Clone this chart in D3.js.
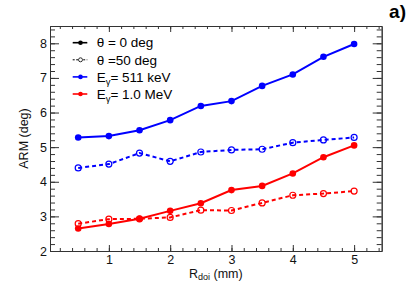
<!DOCTYPE html>
<html>
<head>
<meta charset="utf-8">
<script src="https://cdn.jsdelivr.net/npm/d3@7"></script>
<style>
  html, body { margin: 0; padding: 0; background: #fff; }
  svg text { font-family: "Liberation Sans", Arial, sans-serif; }
</style>
</head>
<body>
<div id="chart"></div>
<script>
// ARM vs R_doi, two energies x two angles
const rdoi = [0.5, 1.0, 1.5, 2.0, 2.5, 3.0, 3.5, 4.0, 4.5, 5.0];
const blueTheta0 = [5.28, 5.32, 5.49, 5.78, 6.19, 6.33, 6.77, 7.10, 7.61, 7.98];
const blueTheta50 = [4.40, 4.51, 4.83, 4.59, 4.86, 4.92, 4.94, 5.13, 5.21, 5.28];
const redTheta0 = [2.65, 2.78, 2.93, 3.16, 3.38, 3.76, 3.88, 4.24, 4.71, 5.05];
const redTheta50 = [2.79, 2.92, 2.93, 2.97, 3.18, 3.17, 3.39, 3.61, 3.66, 3.73];

const xMajor = [1, 2, 3, 4, 5];
const xMinor = d3.range(0.2, 5.45, 0.2);
const yMajor = [2, 3, 4, 5, 6, 7, 8];
const yMinor = d3.range(2, 8.5, 0.2);

const W = 415, H = 287;
const L = 50, R = 381.7, T = 26, B = 251;

const svg = d3.select('#chart').append('svg')
  .attr('width', W).attr('height', H);

const x = d3.scaleLinear().domain([0.04, 5.45]).range([L, R]);
const y = d3.scaleLinear().domain([2, 8.5]).range([B, T]);

const axisColor = '#333';

function styleAxis(g) {
  g.selectAll('path').attr('stroke', axisColor).attr('stroke-width', 1);
  g.selectAll('line').attr('stroke', axisColor).attr('stroke-width', 1);
  g.selectAll('text').attr('fill', '#111').attr('font-size', 12.5);
}

// bottom
svg.append('g').attr('transform', `translate(0,${B})`)
  .call(d3.axisBottom(x).tickValues(xMinor).tickSizeInner(-3).tickSizeOuter(0).tickFormat(''))
  .call(styleAxis);
svg.append('g').attr('transform', `translate(0,${B})`)
  .call(d3.axisBottom(x).tickValues(xMajor).tickSizeInner(-6).tickSizeOuter(0).tickPadding(4).tickFormat(d3.format('d')))
  .call(styleAxis);
// top
svg.append('g').attr('transform', `translate(0,${T})`)
  .call(d3.axisTop(x).tickValues(xMinor).tickSizeInner(-3).tickSizeOuter(0).tickFormat(''))
  .call(styleAxis);
svg.append('g').attr('transform', `translate(0,${T})`)
  .call(d3.axisTop(x).tickValues(xMajor).tickSizeInner(-6).tickSizeOuter(0).tickFormat(''))
  .call(styleAxis);
// left
svg.append('g').attr('transform', `translate(${L},0)`)
  .call(d3.axisLeft(y).tickValues(yMinor).tickSizeInner(-5).tickSizeOuter(0).tickFormat(''))
  .call(styleAxis);
svg.append('g').attr('transform', `translate(${L},0)`)
  .call(d3.axisLeft(y).tickValues(yMajor).tickSizeInner(-9).tickSizeOuter(0).tickPadding(3).tickFormat(d3.format('d')))
  .call(styleAxis);
// right
svg.append('g').attr('transform', `translate(${R},0)`)
  .call(d3.axisRight(y).tickValues(yMinor).tickSizeInner(-5).tickSizeOuter(0).tickFormat(''))
  .call(styleAxis);
svg.append('g').attr('transform', `translate(${R},0)`)
  .call(d3.axisRight(y).tickValues(yMajor).tickSizeInner(-9).tickSizeOuter(0).tickFormat(''))
  .call(styleAxis);

// axis titles
svg.append('text')
  .attr('transform', `translate(28,${(T + B) / 2}) rotate(-90)`)
  .attr('text-anchor', 'middle')
  .attr('font-size', 12.5)
  .attr('fill', '#111')
  .text('ARM (deg)');

const xt = svg.append('text')
  .attr('x', (L + R) / 2).attr('y', 278)
  .attr('text-anchor', 'middle')
  .attr('font-size', 12.5)
  .attr('fill', '#111');
xt.append('tspan').text('R');
xt.append('tspan').attr('font-size', 9).attr('baseline-shift', '-25%').text('doi');
xt.append('tspan').text(' (mm)');

svg.append('text')
  .attr('x', 406).attr('y', 18)
  .attr('text-anchor', 'end')
  .attr('font-size', 19).attr('font-weight', 'bold')
  .attr('fill', '#000')
  .text('a)');

// series
const series = [
  { vals: blueTheta50, color: '#0000ff', dashed: true },
  { vals: redTheta50, color: '#ff0000', dashed: true },
  { vals: blueTheta0, color: '#0000ff', dashed: false },
  { vals: redTheta0, color: '#ff0000', dashed: false }
];

const line = d3.line().x(d => x(d[0])).y(d => y(d[1]));

series.forEach(s => {
  const pts = rdoi.map((r, i) => [r, s.vals[i]]);
  svg.append('path')
    .attr('d', line(pts))
    .attr('fill', 'none')
    .attr('stroke', s.color)
    .attr('stroke-width', 2)
    .attr('stroke-dasharray', s.dashed ? '4,3' : null);
  svg.append('g').selectAll('circle').data(pts).join('circle')
    .attr('cx', d => x(d[0]))
    .attr('cy', d => y(d[1]))
    .attr('r', s.dashed ? 3 : 3.3)
    .attr('fill', s.dashed ? 'none' : s.color)
    .attr('stroke', s.color)
    .attr('stroke-width', s.dashed ? 1.2 : 0);
});

// legend
const legend = [
  { label: ['θ = 0 deg'], color: '#000', dashed: false, open: false },
  { label: ['θ =50 deg'], color: '#000', dashed: true, open: true },
  { label: ['E', 'γ', '= 511 keV'], color: '#0000ff', dashed: false, open: false },
  { label: ['E', 'γ', '= 1.0 MeV'], color: '#ff0000', dashed: false, open: false }
];
const legY = d3.scalePoint().domain(d3.range(legend.length)).range([42.7, 94]);

legend.forEach((d, i) => {
  const yy = legY(i);
  svg.append('line')
    .attr('x1', 72.7).attr('x2', 87.3).attr('y1', yy).attr('y2', yy)
    .attr('stroke', d.color)
    .attr('stroke-width', d.dashed ? 1 : 1.6)
    .attr('stroke-dasharray', d.dashed ? '2,1.5' : null);
  svg.append('circle')
    .attr('cx', 80.5).attr('cy', yy).attr('r', d.open ? 2 : 2.3)
    .attr('fill', d.open ? '#fff' : d.color)
    .attr('stroke', d.color).attr('stroke-width', d.open ? 0.8 : 0);
  const t = svg.append('text')
    .attr('x', 96.7).attr('y', yy + 4.7)
    .attr('font-size', 13.5).attr('fill', '#000');
  if (d.label.length === 1) {
    t.text(d.label[0]);
  } else {
    t.append('tspan').text(d.label[0]);
    t.append('tspan').attr('font-size', 9.5).attr('baseline-shift', '-25%').text(d.label[1]);
    t.append('tspan').text(d.label[2]);
  }
});
</script>
</body>
</html>
